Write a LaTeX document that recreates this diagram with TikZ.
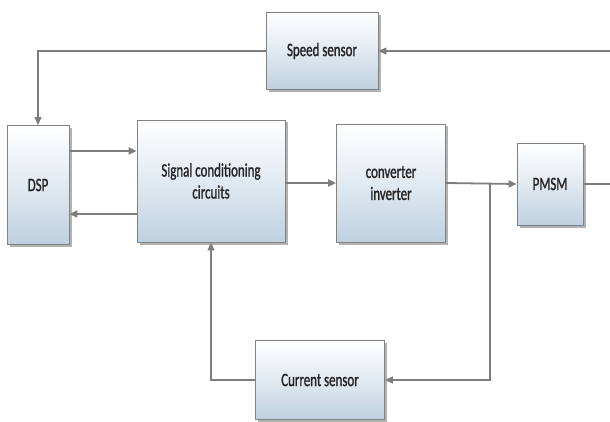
\documentclass[tikz,border=0pt]{standalone}
\usepackage{fontspec}
\setmainfont{Carlito}
\usetikzlibrary{arrows.meta,shadows,positioning}
\definecolor{boxline}{RGB}{130,130,130}
\definecolor{boxbot}{RGB}{190,208,224}
\definecolor{wire}{RGB}{125,125,125}

\begin{document}
\begin{tikzpicture}[x=1pt,y=-1pt,
block/.style={rectangle,draw=boxline,thick,top color=white,bottom color=boxbot,
middle color=boxbot!45,inner sep=0pt,align=center,text=black!85,
font=\fontsize{19}{22}\selectfont\addfontfeature{FakeStretch=0.68,FakeBold=1.2},
drop shadow={shadow xshift=2.5pt,shadow yshift=-2.5pt,fill=black!55,opacity=0.55}},
flow/.style={draw=wire,line width=1.8pt,-{Triangle[length=8pt,width=7pt]}},
sense/.style={draw=wire,line width=1.1pt,-{Triangle[length=8pt,width=7pt]}},
wireonly/.style={draw=wire,line width=1.1pt}]
    \useasboundingbox (0,0) rectangle (610,422);
    \node[block,minimum width=112,minimum height=77] (speed) at (322,51) {Speed sensor};
    \node[block,minimum width=62,minimum height=119] (dsp) at (38,185) {DSP};
    \node[block,minimum width=148,minimum height=122] (sc) at (211,181) {Signal conditioning\\circuits};
    \node[block,minimum width=109,minimum height=118] (conv) at (391,183) {converter\\inverter};
    \node[block,minimum width=66,minimum height=82] (pmsm) at (550,184) {PMSM};
    \node[block,minimum width=129,minimum height=79] (cur) at (320,380) {Current sensor};
    \coordinate (motor) at (610,51);
    \coordinate (shaft) at (610,184);
    \coordinate (tap) at (490,184);
    \draw[sense] (motor) -- (speed.east);
    \draw[sense] (speed.west) -| (dsp.north);
    \draw[flow] (dsp.east |- 0,151) -- (sc.west |- 0,151);
    \draw[flow] (sc.west |- 0,214) -- (dsp.east |- 0,214);
    \draw[flow] (sc.east |- conv.west) -- (conv.west);
    \draw[flow] (conv.east) -- (pmsm.west);
    \draw[wireonly] (pmsm.east) -- (shaft);
    \draw[sense] (tap) |- (cur.east);
    \draw[sense] (cur.west) -| (sc.south);
\end{tikzpicture}
\end{document}
